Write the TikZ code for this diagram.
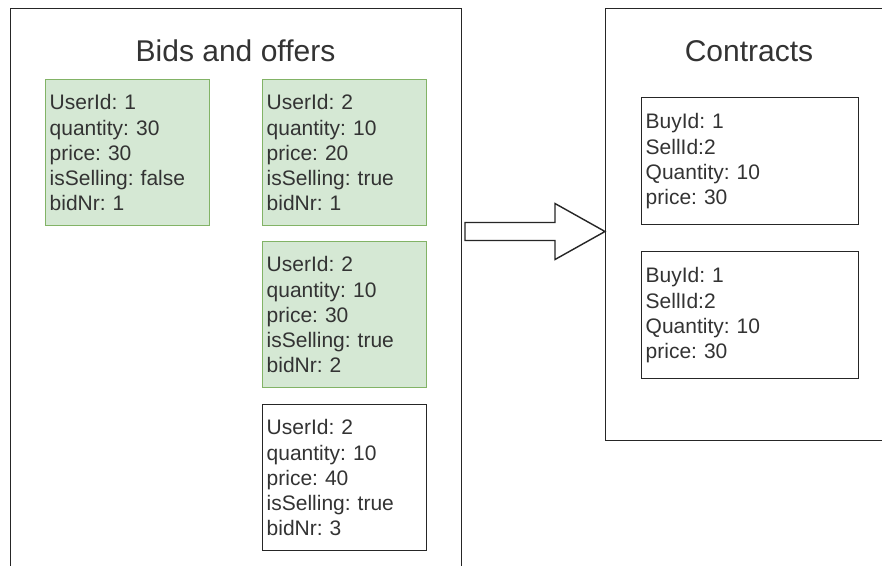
\documentclass[tikz,border=0pt]{standalone}
\usepackage{fontspec}
\setmainfont{Liberation Sans}
\frenchspacing
\usetikzlibrary{positioning}
\definecolor{cardfill}{HTML}{D5E8D4}
\definecolor{cardline}{HTML}{82B366}
\definecolor{inkline}{HTML}{262626}
\definecolor{inktext}{HTML}{333333}
\tikzset{
  panel/.style={draw=inkline, line width=1.4pt, fill=white, anchor=north west, inner sep=0pt},
  paneltitle/.style={anchor=base, text=inktext, font=\fontsize{30}{36}\selectfont\frenchspacing, inner sep=0pt},
  card/.style={draw=inkline, line width=1.4pt, fill=white, anchor=north west,
    minimum width=164pt, minimum height=146pt, text width=156pt, inner xsep=4pt, inner ysep=0pt,
    align=left, text=inktext, font=\fontsize{21}{25.2}\selectfont\frenchspacing},
  greencard/.style={card, draw=cardline, fill=cardfill},
  contract/.style={card, minimum width=217pt, minimum height=127pt, text width=209pt},
  bigarrow/.style={draw=inkline, line width=1.4pt, fill=white, line join=miter}
}
\begin{document}
\begin{tikzpicture}[x=1pt, y=-1pt]
  \clip (0,0) rectangle (882,565);
  \fill[white] (0,0) rectangle (882,565);

  % containers
  \node[panel, minimum width=451pt, minimum height=600pt] (bids) at (10,8) {};
  \node[panel, minimum width=288pt, minimum height=432pt] (contracts) at (605,8) {};
  \node[paneltitle] (bidstitle) at (235.5,61) {Bids and offers};
  \node[paneltitle] (contractstitle) at (749,61) {Contracts};

  % bids and offers
  \node[greencard] (bid1) at (45,79) {UserId: 1\\quantity: 30\\price: 30\\isSelling: false\\bidNr: 1};
  \node[greencard] (offer1) at (262,79) {UserId: 2\\quantity: 10\\price: 20\\isSelling: true\\bidNr: 1};
  \node[greencard] (offer2) at (262,241) {UserId: 2\\quantity: 10\\price: 30\\isSelling: true\\bidNr: 2};
  \node[card] (offer3) at (262,404) {UserId: 2\\quantity: 10\\price: 40\\isSelling: true\\bidNr: 3};

  % contracts
  \node[contract] (contract1) at (641,97) {BuyId: 1\\SellId:2\\Quantity: 10\\price: 30};
  \node[contract] (contract2) at (641,251) {BuyId: 1\\SellId:2\\Quantity: 10\\price: 30};

  % block arrow from bids to contracts
  \coordinate (tip) at (contracts.west |- 0,231.5);
  \draw[bigarrow] (465,222.5) -- (555,222.5) -- (555,203.5) -- (tip)
    -- (555,259.5) -- (555,240.5) -- (465,240.5) -- cycle;
\end{tikzpicture}
\end{document}
